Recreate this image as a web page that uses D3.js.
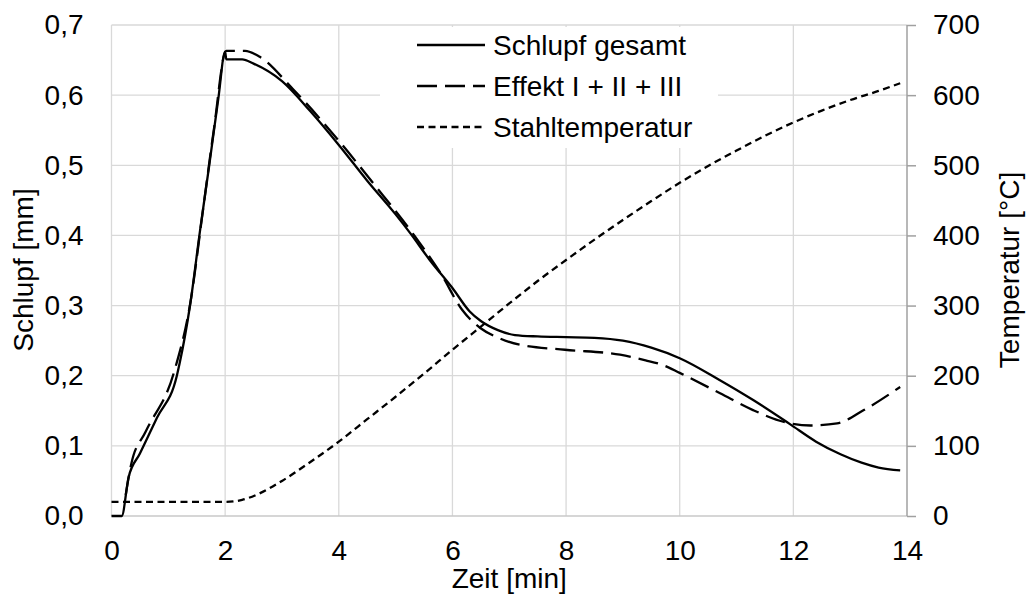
<!DOCTYPE html>
<html>
<head>
<meta charset="utf-8">
<script src="https://cdn.jsdelivr.net/npm/d3@7"></script>
<style>
  html, body { margin: 0; padding: 0; background: #fff; }
  svg { display: block; font-family: "Liberation Sans", Arial, Helvetica, sans-serif; }
</style>
</head>
<body>
<svg id="chart" width="1027" height="602"></svg>
<script>
// Schlupf gesamt (total slip, mm) over time (min)
const slipTotalTime = [0, 0.18, 0.3, 0.5, 0.8, 1.15, 1.2, 1.38, 1.56, 1.72, 1.88, 2.0, 2.02, 2.3, 2.5, 3.0, 3.5, 4.0, 4.5, 5.0, 5.26, 5.6, 6.0, 6.3, 6.5, 6.8, 7.1, 7.5, 8.0, 8.5, 9.0, 9.5, 10.0, 10.7, 11.3, 11.94, 12.4, 12.83, 13.2, 13.5, 13.88];
const slipTotal     = [0, 0, 0.055, 0.089, 0.14, 0.2, 0.218, 0.299, 0.408, 0.5, 0.595, 0.662, 0.651, 0.651, 0.645, 0.62, 0.577, 0.529, 0.478, 0.43, 0.403, 0.365, 0.325, 0.292, 0.278, 0.265, 0.258, 0.256, 0.255, 0.254, 0.25, 0.24, 0.225, 0.194, 0.165, 0.131, 0.106, 0.088, 0.076, 0.069, 0.065];

// Effekt I + II + III (sum of effects, mm)
const slipEffectTime = [0.25, 0.35, 0.6, 1.1, 1.4, 1.6, 1.8, 2.02, 2.35, 2.6, 3.2, 4.0, 4.6, 5.3, 5.8, 6.17, 6.49, 6.78, 7.19, 7.98, 8.95, 9.4, 9.71, 10.0, 10.71, 11.29, 11.89, 12.3, 12.77, 13.24, 13.88];
const slipEffect     = [0.03, 0.075, 0.12, 0.205, 0.31, 0.43, 0.55, 0.663, 0.663, 0.655, 0.608, 0.535, 0.475, 0.403, 0.345, 0.294, 0.268, 0.255, 0.244, 0.237, 0.23, 0.222, 0.215, 0.204, 0.175, 0.151, 0.133, 0.129, 0.132, 0.151, 0.184];

// Stahltemperatur (steel temperature, °C)
const steelTime = [0, 2, 2.3, 2.6, 3, 3.5, 4, 4.5, 5, 5.5, 6, 6.5, 7, 7.5, 8, 8.5, 9, 9.5, 10, 10.5, 11, 11.5, 12, 12.5, 13, 13.5, 13.88];
const steelTemp = [20, 20, 23, 32, 50, 77, 106, 138, 170, 203, 237, 270, 303, 335, 365, 394, 422, 449, 475, 499, 521, 542, 561, 578, 593, 606, 617];

// Axis ticks
const timeTicks = [0, 2, 4, 6, 8, 10, 12, 14];
const slipTicks = [0, 0.1, 0.2, 0.3, 0.4, 0.5, 0.6, 0.7];
const tempTicks = [0, 100, 200, 300, 400, 500, 600, 700];

const seriesNames = ["Schlupf gesamt", "Effekt I + II + III", "Stahltemperatur"];

const svg = d3.select("#chart");
const plotLeft = 111.5, plotRight = 907, plotTop = 25, plotBottom = 516;
const fontSize = 28;
const fontFamily = "Liberation Sans, Arial, sans-serif";

const x = d3.scaleLinear().domain([0, 14]).range([plotLeft, plotRight]);
const yL = d3.scaleLinear().domain([0, 0.7]).range([plotBottom, plotTop]);
const yR = d3.scaleLinear().domain([0, 700]).range([plotBottom, plotTop]);

const grid = svg.append("g");
// horizontal gridlines
grid.selectAll("line.h").data(slipTicks.slice(1)).join("line")
  .attr("x1", plotLeft).attr("x2", plotRight)
  .attr("y1", d => yL(d)).attr("y2", d => yL(d))
  .attr("stroke", "#d9d9d9").attr("stroke-width", 1.3);
// vertical gridlines
grid.selectAll("line.v").data(timeTicks.slice(0, -1)).join("line")
  .attr("x1", d => x(d)).attr("x2", d => x(d))
  .attr("y1", plotTop).attr("y2", plotBottom)
  .attr("stroke", "#d9d9d9").attr("stroke-width", 1.3);
// bottom axis line
svg.append("line").attr("x1", plotLeft).attr("x2", plotRight)
  .attr("y1", plotBottom).attr("y2", plotBottom)
  .attr("stroke", "#c8c8c8").attr("stroke-width", 1.5);

// right axis line with outward ticks
const rAxis = d3.axisRight(yR).tickValues(tempTicks).tickSize(9).tickFormat(d => d).tickPadding(17);
const rg = svg.append("g").attr("transform", `translate(${plotRight},0)`).call(rAxis);
rg.select(".domain").attr("stroke", "#a0a0a0").attr("stroke-width", 1.5).attr("d", `M0,${plotTop}V${plotBottom}`);
rg.selectAll(".tick line").attr("stroke", "#a0a0a0").attr("stroke-width", 1.5);
rg.selectAll(".tick text").attr("font-size", fontSize).attr("fill", "#000").attr("font-family", fontFamily);

// left axis labels
const lAxis = d3.axisLeft(yL).tickValues(slipTicks).tickSize(0).tickPadding(28)
  .tickFormat(d => d3.format(".1f")(d).replace(".", ","));
const lg = svg.append("g").attr("transform", `translate(${plotLeft},0)`).call(lAxis);
lg.select(".domain").remove();
lg.selectAll(".tick text").attr("font-size", fontSize).attr("fill", "#000").attr("font-family", fontFamily);

// bottom axis labels
const bAxis = d3.axisBottom(x).tickValues(timeTicks).tickSize(0).tickPadding(24).tickFormat(d => d);
const bg = svg.append("g").attr("transform", `translate(0,${plotBottom})`).call(bAxis);
bg.select(".domain").remove();
bg.selectAll(".tick text").attr("font-size", fontSize).attr("fill", "#000").attr("font-family", fontFamily);

// axis titles
svg.append("text").attr("x", (plotLeft + plotRight) / 2).attr("y", 588)
  .attr("text-anchor", "middle").attr("font-size", fontSize).text("Zeit [min]");
svg.append("text").attr("transform", "translate(33,270) rotate(-90)")
  .attr("text-anchor", "middle").attr("font-size", fontSize).text("Schlupf [mm]");
svg.append("text").attr("transform", "translate(1019,270) rotate(-90)")
  .attr("text-anchor", "middle").attr("font-size", fontSize).text("Temperatur [°C]");

// legend background (covers gridlines)
svg.append("rect").attr("x", 380).attr("y", 27).attr("width", 338).attr("height", 121).attr("fill", "#fff");

const styles = [
  { dash: null, width: 2.3 },
  { dash: "20,8", width: 2.3 },
  { dash: "7,4.5", width: 2.3 }
];

const lineL = d3.line().x(d => x(d[0])).y(d => yL(d[1])).curve(d3.curveMonotoneX);
const lineR = d3.line().x(d => x(d[0])).y(d => yR(d[1])).curve(d3.curveMonotoneX);

const plot = svg.append("g");
plot.append("path").datum(steelTime.map((t, i) => [t, steelTemp[i]]))
  .attr("d", lineR).attr("fill", "none").attr("stroke", "#000")
  .attr("stroke-width", styles[2].width).attr("stroke-dasharray", styles[2].dash);
plot.append("path").datum(slipEffectTime.map((t, i) => [t, slipEffect[i]]))
  .attr("d", lineL).attr("fill", "none").attr("stroke", "#000")
  .attr("stroke-width", styles[1].width).attr("stroke-dasharray", styles[1].dash);
plot.append("path").datum(slipTotalTime.map((t, i) => [t, slipTotal[i]]))
  .attr("d", lineL).attr("fill", "none").attr("stroke", "#000")
  .attr("stroke-width", styles[0].width);

// legend entries
const legend = svg.append("g");
seriesNames.forEach((name, i) => {
  const yy = 45 + i * 41;
  legend.append("line").attr("x1", 417).attr("x2", 485).attr("y1", yy).attr("y2", yy)
    .attr("stroke", "#000").attr("stroke-width", styles[i].width)
    .attr("stroke-dasharray", styles[i].dash);
  legend.append("text").attr("x", 493).attr("y", yy).attr("dy", "0.35em")
    .attr("font-size", fontSize).text(name);
});
</script>
</body>
</html>
